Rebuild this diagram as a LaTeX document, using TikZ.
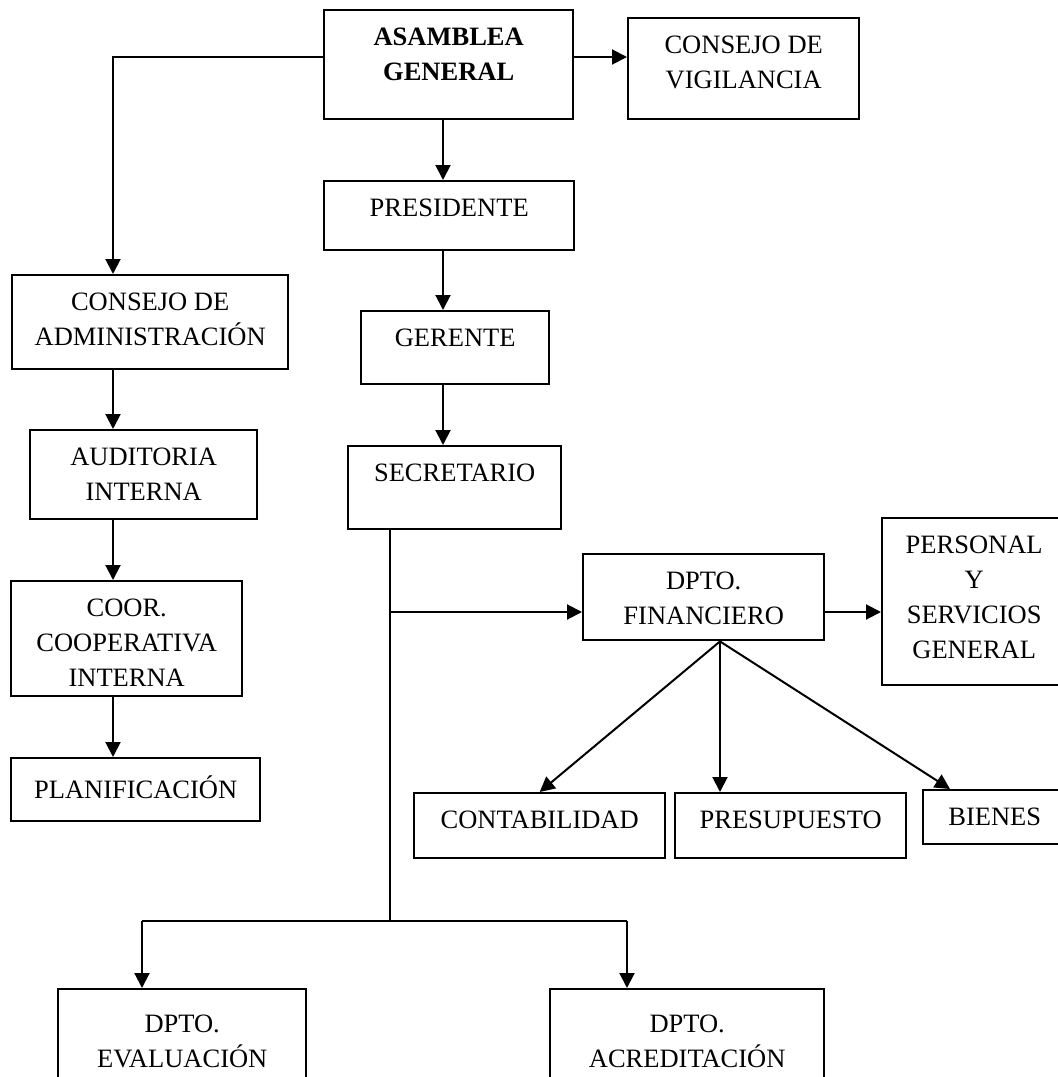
\documentclass[tikz,border=0pt]{standalone}
\usepackage{fontspec}
\setmainfont{Liberation Serif}
\usetikzlibrary{arrows.meta,calc}
\newlength{\px}
\setlength{\px}{0.5pt}
% text set at the top of a box of given width and height (in px)
\newcommand{\boxtext}[4][18]{\parbox[c][#3\px][t]{#2\px}{\centering\vspace*{#1\px}#4}}
\begin{document}
\begin{tikzpicture}[x=0.5pt,y=-0.5pt,
    font=\fontsize{13.25}{17.5}\selectfont,
    box/.style={draw, line width=1.2pt, inner sep=0pt, anchor=north west},
    arr/.style={line width=1pt, -{Triangle[length=7.5pt,width=7.5pt]}},
    link/.style={line width=1pt}]
\useasboundingbox (0,0) rectangle (1057,1077);

% top and middle column
\node[box] (asam) at (323,9) {\boxtext{249}{109}{\textbf{ASAMBLEA}\\\textbf{GENERAL}}};
\node[box] (vig) at (627,17) {\boxtext{231}{101}{CONSEJO DE\\VIGILANCIA}};
\node[box] (pres) at (323,180) {\boxtext{250}{69}{PRESIDENTE}};
\node[box] (ger) at (360,310) {\boxtext{188}{73}{GERENTE}};
\node[box] (sec) at (347,445) {\boxtext{213}{83}{SECRETARIO}};

% left column
\node[box] (cadm) at (11,274) {\boxtext{276}{94}{CONSEJO DE\\ADMINISTRACIÓN}};
\node[box] (aud) at (29,429) {\boxtext{227}{89}{AUDITORIA\\INTERNA}};
\node[box] (coor) at (10,580) {\boxtext{231}{115}{COOR.\\COOPERATIVA\\INTERNA}};
\node[box] (plan) at (10,757) {\boxtext{249}{63}{PLANIFICACIÓN}};

% financial branch
\node[box] (fin) at (582,553) {\boxtext{241}{86}{DPTO.\\FINANCIERO}};
\node[box] (pers) at (881,517) {\boxtext{184}{167}{PERSONAL\\Y\\SERVICIOS\\GENERAL}};
\node[box] (cont) at (413,792) {\boxtext{251}{65}{CONTABILIDAD}};
\node[box] (presu) at (674,792) {\boxtext{231}{65}{PRESUPUESTO}};
\node[box] (bien) at (922,789) {\boxtext{143}{54}{BIENES}};

% bottom
\node[box] (eval) at (57,988) {\boxtext[26]{248}{100}{DPTO.\\EVALUACIÓN}};
\node[box] (acre) at (549,988) {\boxtext[26]{274}{100}{DPTO.\\ACREDITACIÓN}};

% lines
\coordinate (lspine) at (113,0);
\coordinate (mspine) at (443,0);
\coordinate (sline) at (390,0);
\coordinate (topline) at (0,57);
\coordinate (brow) at (0,612);
\coordinate (fan) at (720,0);
\coordinate (busl) at (142,921);
\coordinate (busr) at (627,921);

\draw[arr] (asam.west |- topline) -| (lspine |- cadm.north);
\draw[arr] (asam.east |- topline) -- (vig.west |- topline);
\draw[arr] (mspine |- asam.south) -- (mspine |- pres.north);
\draw[arr] (mspine |- pres.south) -- (mspine |- ger.north);
\draw[arr] (mspine |- ger.south) -- (mspine |- sec.north);
\draw[arr] (lspine |- cadm.south) -- (lspine |- aud.north);
\draw[arr] (lspine |- aud.south) -- (lspine |- coor.north);
\draw[arr] (lspine |- coor.south) -- (lspine |- plan.north);

\draw[link] (sline |- sec.south) -- (sline |- busl);
\draw[arr] (sline |- brow) -- (fin.west |- brow);
\draw[arr] (fin.east |- brow) -- (pers.west |- brow);
\draw[arr] (fan |- fin.south) -- (cont.north);
\draw[arr] (fan |- fin.south) -- (fan |- presu.north);
\draw[arr] (fan |- fin.south) -- ($(bien.north west)+(28,0)$);

\draw[link] (busl) -- (busr);
\draw[arr] (busl) -- (busl |- eval.north);
\draw[arr] (busr) -- (busr |- acre.north);
\end{tikzpicture}
\end{document}
